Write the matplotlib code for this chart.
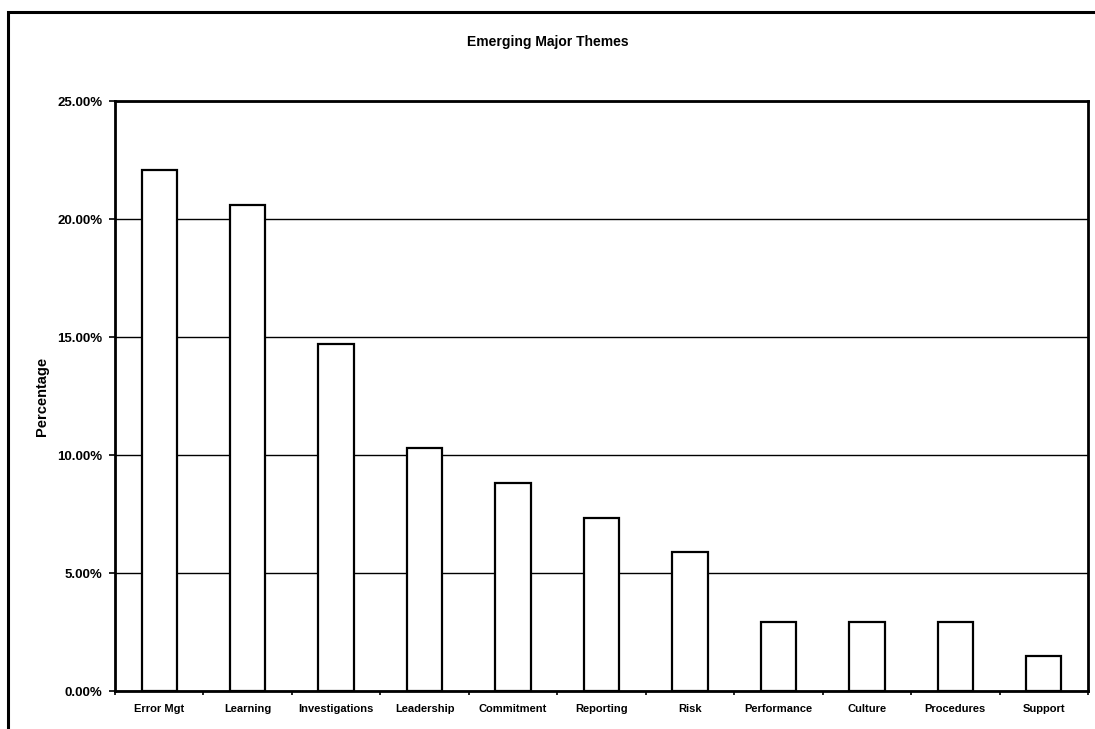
import numpy as np
import matplotlib
matplotlib.use("Agg")
import matplotlib.pyplot as plt
from matplotlib.patches import Rectangle
from matplotlib.ticker import FuncFormatter, FixedLocator

#%% data
themes = ["Error Mgt", "Learning", "Investigations", "Leadership", "Commitment",
          "Reporting", "Risk", "Performance", "Culture", "Procedures", "Support"]
share = [22.06, 20.59, 14.71, 10.29, 8.82, 7.35, 5.88, 2.94, 2.94, 2.94, 1.47]
y_ticks = [0, 5, 10, 15, 20, 25]

#%%
plt.rcParams['font.family'] = ['Liberation Sans', 'DejaVu Sans']

fig = plt.figure(figsize=(10.95, 7.29), dpi=100)
ax = fig.add_axes([115 / 1095, 1 - 691 / 729, (1088 - 115) / 1095, (691 - 101) / 729])

x = np.arange(len(themes))
ax.bar(x, share, width=0.4, color='white', edgecolor='black', linewidth=1.6, zorder=3)

ax.set_xlim(-0.5, len(themes) - 0.5)
ax.set_ylim(0, 25)
ax.set_yticks(y_ticks)
ax.yaxis.set_major_formatter(FuncFormatter(lambda v, p: "%.2f%%" % v))
ax.grid(axis='y', color='black', linewidth=1.0, zorder=0)

ax.set_xticks(x)
ax.set_xticklabels(themes, fontsize=8, fontweight='bold')
ax.xaxis.set_minor_locator(FixedLocator(np.arange(-0.5, len(themes), 1)))
ax.tick_params(axis='x', which='major', length=0, pad=9)
ax.tick_params(axis='x', which='minor', length=3, width=1.2, direction='out')
ax.tick_params(axis='y', length=4, width=1.2, labelsize=9.5, pad=5)
for lab in ax.get_yticklabels():
    lab.set_fontweight('bold')

for s in ax.spines.values():
    s.set_linewidth(2)

ax.set_ylabel("Percentage", fontsize=10.5, fontweight='bold', labelpad=6)
fig.text(0.5, 1 - 42 / 729, "Emerging Major Themes", ha='center', va='center',
         fontsize=10, fontweight='bold')

# outer chart frame
fig.add_artist(Rectangle((8 / 1095, -0.05), 1.2, 1 - 12 / 729 + 0.05,
                         transform=fig.transFigure, fill=False,
                         edgecolor='black', linewidth=2.2))

fig.savefig("out.png", dpi=100)
